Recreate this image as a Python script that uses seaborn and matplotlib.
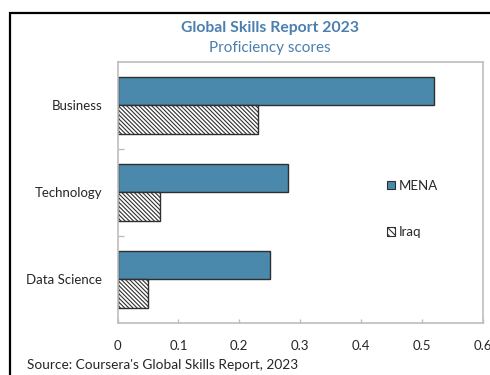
import matplotlib
matplotlib.use("Agg")
import matplotlib.pyplot as plt
from matplotlib.patches import Rectangle
import pandas as pd
import seaborn as sns

# Proficiency scores by skill domain
categories = ["Business", "Technology", "Data Science"]
mena_scores = [0.52, 0.28, 0.25]
iraq_scores = [0.23, 0.07, 0.05]
series_names = ["MENA", "Iraq"]
x_ticks = [0, 0.1, 0.2, 0.3, 0.4, 0.5, 0.6]
x_tick_labels = ["0", "0.1", "0.2", "0.3", "0.4", "0.5", "0.6"]

df = pd.DataFrame({
    "domain": categories * 2,
    "region": [series_names[0]] * len(categories) + [series_names[1]] * len(categories),
    "score": mena_scores + iraq_scores,
})

sns.set_theme(style="white")
plt.rcParams["font.family"] = ["Lato", "DejaVu Sans"]
plt.rcParams["hatch.linewidth"] = 0.8

BLUE = "#4a89ab"
TITLE_BLUE = "#4a7fb0"
EDGE = "#2f2f2f"
FRAME = "#bdbdbd"
TEXT = "#262626"
HATCH = "\\" * 8

fig = plt.figure(figsize=(4.9, 3.75), dpi=100)
ax = fig.add_axes([0.240, 0.139, 0.745, 0.696])

sns.barplot(
    data=df, x="score", y="domain", hue="region",
    order=categories, hue_order=series_names,
    palette={"MENA": BLUE, "Iraq": "white"}, saturation=1,
    width=0.66, edgecolor=EDGE, linewidth=1.0,
    orient="h", ax=ax, legend=True,
)

# Hatched bars for Iraq
for bar in ax.containers[1]:
    bar.set_hatch(HATCH)
    bar.set_edgecolor(EDGE)
    bar.set_facecolor("white")

ax.set_xlim(0, 0.6)
ax.set_ylim(2.5, -0.5)
ax.set_xticks(x_ticks)
ax.set_xticklabels(x_tick_labels)
ax.set_xlabel("")
ax.set_ylabel("")

ax.tick_params(axis="x", direction="in", length=3, width=1, color=FRAME,
               pad=12, labelsize=9.5, labelcolor=TEXT, bottom=True)
ax.tick_params(axis="y", which="major", length=0, pad=11, labelsize=9.5,
               labelcolor=TEXT, left=True)
ax.set_yticks([0.5, 1.5], minor=True)
ax.tick_params(axis="y", which="minor", direction="in", length=4, width=1,
               color=FRAME, left=True)

for spine in ax.spines.values():
    spine.set_visible(True)
    spine.set_color(FRAME)
    spine.set_linewidth(1.2)

# Legend: small squares without a frame
handles, labels = ax.get_legend_handles_labels()
leg = ax.legend(
    handles, labels, loc="center left", bbox_to_anchor=(0.72, 0.437),
    frameon=False, fontsize=9.5, handlelength=0.6, handleheight=0.6,
    handletextpad=0.3, labelspacing=2.6, borderpad=0,
)
for t in leg.get_texts():
    t.set_color(TEXT)
for h in leg.legend_handles:
    h.set_edgecolor(EDGE)
    h.set_linewidth(0.8)
leg.legend_handles[0].set_facecolor(BLUE)
leg.legend_handles[1].set_hatch("\\" * 5)
leg.legend_handles[1].set_facecolor("white")

fig.text(0.551, 0.925, "Global Skills Report 2023", ha="center", va="center",
         fontsize=11.3, fontweight="bold", color=TITLE_BLUE)
fig.text(0.551, 0.872, "Proficiency scores", ha="center", va="center",
         fontsize=11, color=TITLE_BLUE)
fig.text(0.055, 0.027, "Source: Coursera's Global Skills Report, 2023",
         ha="left", va="center", fontsize=9.8, color=TEXT)

# Outer frame of the panel
fig.add_artist(Rectangle((9.5 / 490, -0.1), 1.2, 1.1 - 12.5 / 375,
                         transform=fig.transFigure, fill=False,
                         edgecolor="black", linewidth=1.6))

fig.savefig("out.png", dpi=100)
